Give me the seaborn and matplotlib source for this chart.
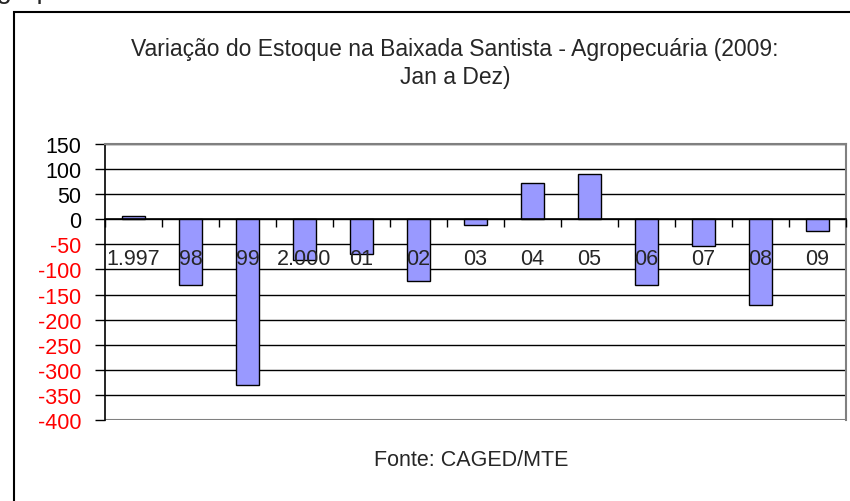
import numpy as np
import pandas as pd
import seaborn as sns
import matplotlib.pyplot as plt
from matplotlib.patches import Rectangle

# Data
anos = ['1.997', '98', '99', '2.000', '01', '02', '03', '04', '05', '06', '07', '08', '09']
saldo = [7, -130, -331, -81, -70, -123, -11, 73, 90, -131, -54, -171, -24]
y_ticks = list(range(-400, 151, 50))

df = pd.DataFrame({'ano': anos, 'saldo': saldo})

sns.set_style('white')
plt.rcParams['font.family'] = ['Liberation Sans', 'DejaVu Sans']
plt.rcParams['axes.unicode_minus'] = False

fig = plt.figure(figsize=(8.5, 5.02), dpi=100)
ax = fig.add_axes([105 / 850, 1 - 421 / 502, 741 / 850, 276 / 502])

sns.barplot(data=df, x='ano', y='saldo', order=anos, color='#9999FF',
            edgecolor='black', linewidth=1.0, width=0.4, saturation=1, ax=ax)

ax.set_xlim(-0.5, len(anos) - 0.5)
ax.set_ylim(-400, 150)
ax.set_yticks(y_ticks)
ax.set_yticklabels([str(v) for v in y_ticks])
for lbl, v in zip(ax.get_yticklabels(), y_ticks):
    lbl.set_color('red' if v < 0 else 'black')

# gridlines behind bars
ax.set_axisbelow(True)
ax.yaxis.grid(True, color='black', linewidth=1.0)
ax.xaxis.grid(False)

# x axis sits on the zero line, labels drawn over the bars
ax.spines['bottom'].set_position(('data', 0))
ax.spines['bottom'].set_color('black')
ax.spines['bottom'].set_linewidth(1.2)
ax.xaxis.set_zorder(5)
ax.set_xticks(np.arange(len(anos)))
ax.set_xticklabels(anos)
ax.set_xticks(np.arange(len(anos) + 1) - 0.5, minor=True)
ax.tick_params(axis='x', which='major', length=0, pad=21, labelsize=15.5)
ax.tick_params(axis='x', which='minor', length=6, width=1, color='black',
               direction='out', bottom=True)
ax.tick_params(axis='y', length=7, width=1, color='black', pad=10,
               labelsize=15.5, left=True)
ax.axhline(-400, color='#808080', linewidth=1.5, zorder=1)

ax.spines['left'].set_color('black')
ax.spines['left'].set_linewidth(1.2)
for s in ['top', 'right']:
    ax.spines[s].set_color('#808080')
    ax.spines[s].set_linewidth(1.5)

ax.set_xlabel('')
ax.set_ylabel('')

fig.text(455 / 850, 1 - 63.5 / 502,
         'Variação do Estoque na Baixada Santista - Agropecuária (2009:\nJan a Dez)',
         ha='center', va='center', multialignment='center', fontsize=16.5,
         linespacing=1.25)
fig.text(471 / 850, 1 - 461 / 502, 'Fonte: CAGED/MTE',
         ha='center', va='center', fontsize=15.5)

# outer chart frame and cut-off heading above it
fig.patches.append(Rectangle((14 / 850, -0.05), 1.0, 1 - 12.5 / 502 + 0.05,
                             transform=fig.transFigure, fill=False,
                             edgecolor='black', linewidth=1.5))
fig.text(-21 / 850, 1 + 2 / 502, 'Agropecuária', fontsize=20, va='baseline')

plt.savefig('out.png', dpi=100)
